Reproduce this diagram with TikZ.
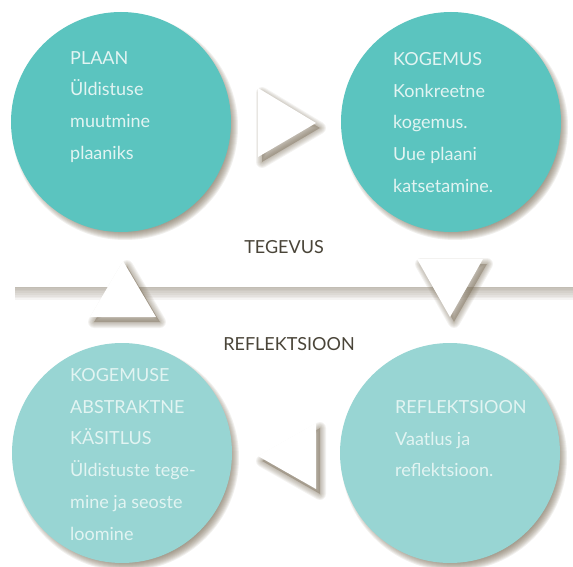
\documentclass[tikz,border=0pt]{standalone}
\usepackage{fontspec}
\setmainfont{Lato}
\definecolor{tealA}{HTML}{5BC4BF}
\definecolor{tealB}{HTML}{98D5D3}
\definecolor{shad}{HTML}{7E715B}
\definecolor{ctext}{HTML}{E2F4F2}
\definecolor{lblcol}{HTML}{4A4539}
\newcommand\shadowtri[3]{%
  \fill[shad,opacity=0.45] ([shift={(4,5)}]#1)--([shift={(4,5)}]#2)--([shift={(4,5)}]#3)--cycle;
  \foreach \w in {2,4,6,8,10,12}{\draw[shad,opacity=0.09,line width=\w pt,line join=round] ([shift={(4,5)}]#1)--([shift={(4,5)}]#2)--([shift={(4,5)}]#3)--cycle;}
  \fill[white] (#1)--(#2)--(#3)--cycle;}
\begin{document}
\begin{tikzpicture}[x=1pt,y=-1pt,
  bubble/.style={circle,minimum size=220pt,inner sep=0pt},
  ctxt/.style={anchor=north west,inner sep=0pt,align=left,text=ctext,font=\fontsize{18}{31.8}\selectfont},
  lbl/.style={text=lblcol,font=\fontsize{18}{20}\selectfont,inner sep=0pt}]
\useasboundingbox[fill=white] (0,0) rectangle (573,567);

% horizontal bar
\foreach \k in {0,...,7} \fill[shad,opacity=0.07] (15,287) rectangle (573,{288+\k*1.7});
\fill[white] (15,282) rectangle (573,287);

% circle shadows
\foreach \cx/\cy in {121/122,451/122,122/453,450/453}{
  \foreach \k in {0,...,9} \fill[shad,opacity=0.11] (\cx+4,\cy+5) circle ({104+\k});}

% circles
\node[bubble,fill=tealA] (plan) at (121,122) {};
\node[bubble,fill=tealA] (kog) at (451,122) {};
\node[bubble,fill=tealB] (abs) at (122,453) {};
\node[bubble,fill=tealB] (refl) at (450,453) {};

% texts (first baselines at 64, 65, 381, 413; cap height about 12.9)
\node[ctxt] (tplan) at (70,51.1) {PLAAN\\Üldistuse\\muutmine\\plaaniks};
\node[ctxt] (tkog) at (393,52.1) {KOGEMUS\\Konkreetne\\kogemus.\\Uue plaani\\katsetamine.};
\node[ctxt] (tabs) at (70,368.1) {KOGEMUSE\\ABSTRAKTNE\\KÄSITLUS\\Üldistuste tege-\\mine ja seoste\\loomine};
\node[ctxt] (trefl) at (395,400.1) {REFLEKTSIOON\\Vaatlus ja\\reflektsioon.};

\node[lbl] (teg) at (284,247) {TEGEVUS};
\node[lbl] (reflab) at (289,344) {REFLEKTSIOON};

% triangles
\coordinate (r1) at (258,88); \coordinate (r2) at (258,157); \coordinate (r3) at (316,123);
\coordinate (d1) at (417,259); \coordinate (d2) at (483,259); \coordinate (d3) at (450,317);
\coordinate (u1) at (123,261); \coordinate (u2) at (90,317); \coordinate (u3) at (156,317);
\coordinate (l1) at (316,423); \coordinate (l2) at (316,489); \coordinate (l3) at (258,456);
\shadowtri{r1}{r2}{r3}
\shadowtri{d1}{d2}{d3}
\shadowtri{u1}{u2}{u3}
\shadowtri{l1}{l2}{l3}
\end{tikzpicture}
\end{document}
